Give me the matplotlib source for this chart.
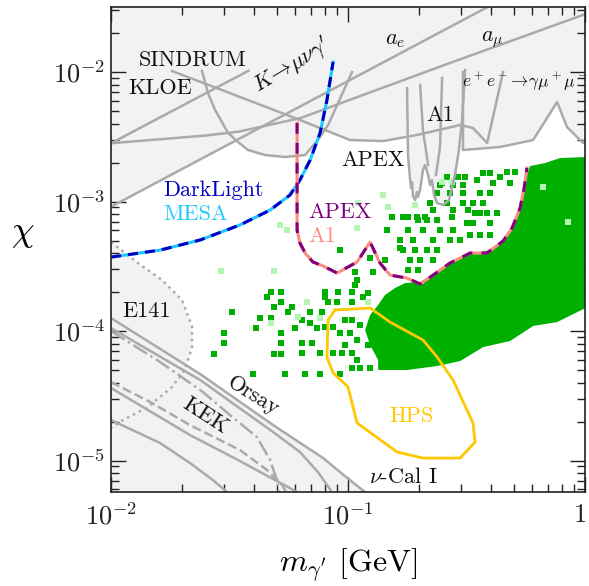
import numpy as np
import matplotlib
matplotlib.use("Agg")
import matplotlib.pyplot as plt
from matplotlib.ticker import LogLocator, NullFormatter
from matplotlib.transforms import ScaledTranslation

plt.rcParams.update({
    "font.family": "serif",
    "font.serif": ["cmr10", "DejaVu Serif"],
    "mathtext.fontset": "cm",
    "axes.unicode_minus": False,
    "axes.formatter.use_mathtext": True,
})

# all curves given as log10(m / GeV), log10(chi)
ae_lm = [-2.0, -0.30]
ae_lc = [-3.04, -1.39]

amu_lm = [-2.0, -1.6, -1.46, -1.2, -1.0, -0.6, 0.02]
amu_lc = [-2.55, -2.49, -2.46, -2.355, -2.22, -1.95, -1.54]

kmu_lm = [-2.0, -1.42]
kmu_lc = [-2.55, -1.99]

sindrum_lm = [-1.743, -1.532, -1.236, -1.118, -0.992, -0.852, -0.709, -0.527, -0.473, -0.413, -0.346]
sindrum_lc = [-1.992, -2.139, -2.347, -2.432, -2.525, -2.533, -2.486, -2.409, -2.432, -2.548, -2.0]

kloe_lm = [-1.616, -1.591, -1.561, -1.506, -1.464, -1.422, -1.350, -1.266, -1.181, -1.131, -1.084, -1.030, -0.983]
kloe_lc = [-1.992, -2.162, -2.293, -2.471, -2.541, -2.602, -2.641, -2.656, -2.641, -2.533, -2.409, -2.19, -2.0]

babar_lm = [-0.515, -0.515, -0.359, -0.219, -0.118, -0.076, -0.008, 0.017]
babar_lc = [-2.0, -2.602, -2.579, -2.525, -2.232, -2.425, -2.548, -2.471]

a1_lm = [-0.751, -0.747, -0.738, -0.734, -0.730, -0.726, -0.717, -0.709, -0.705, -0.696, -0.684, -0.675,
         -0.662, -0.654, -0.646, -0.637, -0.624, -0.599, -0.574, -0.549, -0.532, -0.519, -0.506]
a1_lc = [-2.124, -2.641, -2.834, -2.896, -2.849, -2.958, -2.988, -2.927, -2.965, -2.911, -2.757, -2.718,
         -2.795, -2.873, -2.834, -2.950, -3.012, -3.027, -2.988, -2.795, -2.602, -2.371, -1.985]
a1b_lm = [-0.696, -0.684, -0.662]
a1b_lc = [-2.100, -2.448, -2.718]
a1c_lm = [-0.603, -0.612, -0.629]
a1c_lc = [-2.046, -2.579, -2.795]

# beam dumps
orsay_lm = [-2.0, -1.624, -1.316, -1.105, -1.013, -0.89]
orsay_lc = [-3.900, -4.332, -4.726, -4.981, -5.120, -5.30]
bd2_lm = [-2.0, -1.624, -1.316, -1.203, -1.127, -1.068, -1.055]
bd2_lc = [-3.977, -4.378, -4.780, -4.934, -5.089, -5.243, -5.30]
kek_lm = [-2.0, -1.793, -1.612, -1.498, -1.384, -1.329, -1.300, -1.287]
kek_lc = [-4.000, -4.239, -4.471, -4.649, -4.819, -4.996, -5.151, -5.30]
bd3_lm = [-2.0, -1.835, -1.667, -1.456, -1.342, -1.278, -1.245]
bd3_lc = [-4.394, -4.548, -4.726, -4.919, -5.073, -5.189, -5.30]
bd4_lm = [-2.0, -1.667, -1.464, -1.215, -1.181]
bd4_lc = [-4.440, -4.803, -4.996, -5.243, -5.30]
bd5_lm = [-2.0, -1.793, -1.667, -1.570, -1.511, -1.485]
bd5_lc = [-4.687, -4.865, -5.019, -5.151, -5.243, -5.30]
e141_lm = [-2.0, -1.886, -1.785, -1.700, -1.658, -1.658, -1.688, -1.743, -1.844, -1.949, -2.0]
e141_lc = [-3.313, -3.475, -3.606, -3.761, -3.969, -4.124, -4.301, -4.432, -4.587, -4.687, -4.749]

# future experiments
darklight_lm = [-2.0, -1.793, -1.624, -1.456, -1.329, -1.245, -1.203, -1.160, -1.118, -1.089, -1.063]
darklight_lc = [-3.429, -3.375, -3.297, -3.181, -3.066, -2.950, -2.834, -2.680, -2.471, -2.216, -1.923]

apex_lm = [-1.215, -1.215, -1.203, -1.181, -1.148, -1.105, -1.046, -0.962, -0.907, -0.865, -0.823, -0.751,
           -0.696, -0.641, -0.570, -0.485, -0.414, -0.346, -0.308, -0.274, -0.257, -0.245]
apex_lc = [-2.394, -3.220, -3.320, -3.398, -3.467, -3.498, -3.552, -3.467, -3.313, -3.475, -3.568, -3.591,
           -3.637, -3.568, -3.475, -3.398, -3.398, -3.305, -3.205, -3.050, -2.896, -2.741]

hps_lm = [-1.055, -0.907, -0.823, -0.684, -0.624, -0.557, -0.473, -0.464, -0.527, -0.684, -0.793,
          -0.962, -1.000, -1.063, -1.089, -1.084, -1.055]
hps_lc = [-3.838, -3.822, -3.931, -4.069, -4.201, -4.378, -4.710, -4.857, -4.981, -4.981, -4.934,
          -4.710, -4.432, -4.324, -4.201, -3.915, -3.838]

# model scan: dense core outline
core_lm = [0.01, -0.105, -0.169, -0.232, -0.245, -0.266, -0.295, -0.338, -0.401, -0.485, -0.570, -0.633,
           -0.696, -0.759, -0.802, -0.844, -0.873, -0.907, -0.928, -0.907, -0.873, -0.873, -0.751, -0.624,
           -0.527, -0.430, -0.316, -0.219, -0.118, 0.01]
core_lc = [-2.656, -2.664, -2.703, -2.726, -2.795, -2.988, -3.158, -3.297, -3.375, -3.405, -3.475, -3.552,
           -3.622, -3.629, -3.668, -3.722, -3.799, -3.876, -3.992, -4.108, -4.224, -4.301, -4.301, -4.270,
           -4.232, -4.124, -4.077, -3.961, -3.931, -3.815]

# model scan: isolated points
pt_lm = [-1.489, -1.342, -1.325, -1.283, -1.283, -1.312, -1.236, -1.253, -1.371, -1.325, -1.388, -1.224,
         -1.523, -1.283, -1.523, -1.283, -1.565, -1.312, -1.283, -1.401, -1.266, -1.181, -1.118, -1.034,
         -1.034, -0.970, -0.895, -0.962, -0.970, -1.097, -1.042, -0.983, -0.916, -1.097, -0.937, -1.084,
         -1.046, -0.983, -1.160, -1.110, -1.194, -1.160, -1.131, -1.097, -1.063, -1.194, -1.152, -1.194,
         -1.118, -1.063, -1.025, -0.983, -0.962, -0.983, -0.949, -0.907,
         -1.013, -0.983, -0.949, -1.034, -0.992, -0.962, -1.013, -0.916, -0.886, -0.865,
         -0.329, -0.295, -0.506, -0.359, -0.603, -0.388, -0.316, -0.624, -0.570, -0.515, -0.443, -0.401,
         -0.654, -0.582, -0.515, -0.473, -0.430, -0.641, -0.557, -0.494, -0.464, -0.443, -0.414, -0.371,
         -0.705, -0.667, -0.624, -0.498, -0.473, -0.401, -0.747, -0.684, -0.612, -0.557, -0.485, -0.443,
         -0.401, -0.781, -0.726, -0.641, -0.570, -0.527, -0.768, -0.717, -0.667, -0.624, -0.738, -0.696,
         -0.641, -0.747, -0.705, -0.814, -0.747, -0.835, -0.907, -0.844, -0.781, -0.582, -0.536, -0.430,
         -0.401, -0.612, -0.557, -0.515, -0.456, -0.768, -0.709, -0.675, -0.561]
pt_lc = [-3.853, -3.737, -3.699, -3.699, -3.776, -3.815, -3.815, -3.853, -3.900, -3.900, -3.977, -3.977,
         -4.015, -4.015, -4.093, -4.093, -4.178, -4.178, -4.178, -4.332, -4.332, -4.332, -4.332, -4.332,
         -3.375, -3.544, -3.544, -3.606, -3.645, -3.699, -3.699, -3.699, -3.707, -3.737, -3.737, -3.776,
         -3.776, -3.776, -3.853, -3.853, -3.915, -3.938, -3.977, -3.969, -3.969, -4.093, -4.093, -4.170,
         -4.170, -4.170, -4.170, -4.170, -4.224, -4.286, -4.286, -4.286,
         -3.915, -3.915, -3.954, -4.015, -4.015, -4.069, -4.108, -4.108, -4.054, -3.992,
         -2.772, -2.772, -2.811, -2.811, -2.857, -2.857, -2.857, -2.934, -2.934, -2.934, -2.934, -2.934,
         -3.012, -3.012, -3.012, -3.012, -3.012, -3.066, -3.066, -3.066, -3.089, -3.089, -3.089, -3.089,
         -3.143, -3.143, -3.143, -3.166, -3.166, -3.166, -3.220, -3.220, -3.220, -3.220, -3.259, -3.259,
         -3.259, -3.297, -3.297, -3.297, -3.297, -3.297, -3.375, -3.375, -3.375, -3.375, -3.452, -3.452,
         -3.452, -3.529, -3.529, -3.120, -3.120, -3.220, -3.436, -3.452, -3.359, -2.811, -2.811, -2.780,
         -2.780, -2.873, -2.873, -2.873, -2.834, -3.120, -3.120, -3.120, -3.120]
faint_lm = [-1.536, -1.312, -1.325, -1.211, -1.173, -1.118, -0.916, -0.962, -0.852, -0.831, -0.717,
            -0.603, -0.561, -0.958, -1.287, -1.257, -0.177, -0.072]
faint_lc = [-3.537, -3.537, -3.938, -3.892, -3.776, -3.900, -3.776, -3.205, -2.950, -3.042, -3.027,
            -2.849, -2.849, -3.012, -3.181, -3.220, -2.888, -3.158]

FILL = "#f2f2f2"
GRAY = "#aaaaaa"
GREEN = "#00b000"
FAINT = "#b4f5b4"
CHI_TOP, CHI_BOT = 0.2, 1e-6


def lin(lm, lc):
    return 10.0 ** np.asarray(lm), 10.0 ** np.asarray(lc)


fig = plt.figure(figsize=(5.89, 5.86), dpi=100)
ax = fig.add_axes([0.1885, 0.1604, 0.8048, 0.8276])
ax.set_xscale("log")
ax.set_yscale("log")

# excluded regions
for lm, lc in [(ae_lm, ae_lc), (amu_lm, amu_lc), (kmu_lm, kmu_lc), (sindrum_lm, sindrum_lc),
               (kloe_lm, kloe_lc), (babar_lm, babar_lc), (a1_lm, a1_lc)]:
    m, c = lin(lm, lc)
    ax.fill(np.r_[m, m[-1], m[0]], np.r_[c, CHI_TOP, CHI_TOP], color=FILL, lw=0, zorder=1)

m, c = lin(orsay_lm, orsay_lc)
ax.fill(np.r_[m, m[-1], m[0]], np.r_[c, CHI_BOT, CHI_BOT], color=FILL, lw=0, zorder=1)
m, c = lin(e141_lm, e141_lc)
ax.fill(m, c, color=FILL, lw=0, zorder=1)

# scan points
m, c = lin(core_lm, core_lc)
ax.fill(m, c, color=GREEN, lw=0, zorder=2)
m, c = lin(pt_lm, pt_lc)
ax.scatter(m, c, marker="s", s=17, color=GREEN, lw=0, zorder=2)
m, c = lin(faint_lm, faint_lc)
ax.scatter(m, c, marker="s", s=17, color=FAINT, lw=0, zorder=2)

# constraint boundaries
for lm, lc in [(ae_lm, ae_lc), (amu_lm, amu_lc), (kmu_lm, kmu_lc), (sindrum_lm, sindrum_lc),
               (kloe_lm, kloe_lc), (babar_lm, babar_lc), (a1_lm, a1_lc), (a1b_lm, a1b_lc),
               (a1c_lm, a1c_lc), (orsay_lm, orsay_lc), (bd2_lm, bd2_lc), (bd4_lm, bd4_lc),
               (bd5_lm, bd5_lc)]:
    ax.plot(*lin(lm, lc), color=GRAY, lw=1.8, zorder=3, solid_joinstyle="round")
ax.plot(*lin(kek_lm, kek_lc), color=GRAY, lw=1.8, ls="-.", zorder=3)
ax.plot(*lin(bd3_lm, bd3_lc), color=GRAY, lw=1.8, ls="--", zorder=3)
ax.plot(*lin(e141_lm, e141_lc), color=GRAY, lw=1.8, ls=":", zorder=3)

# projected reaches
ax.plot(*lin(darklight_lm, darklight_lc), color="#1ec8ff", lw=2.2, zorder=4)
ax.plot(*lin(darklight_lm, darklight_lc), color="#0000c0", lw=2.2, ls=(0, (3.3, 2.3)), zorder=4)
ax.plot(*lin(apex_lm, apex_lc), color="#fa8c80", lw=2.2, zorder=4)
ax.plot(*lin(apex_lm, apex_lc), color="#800080", lw=2.2, ls=(0, (3.5, 3.0)), zorder=4)
ax.plot(*lin(hps_lm, hps_lc), color="#ffc800", lw=2.0, zorder=4)

fs = 16
kw = dict(fontsize=fs, zorder=5)
ax.text(0.0220, 0.01238, "SINDRUM", ha="center", va="center", color="#111111", **kw)
ax.text(0.0161, 7.52e-3, "KLOE", ha="center", va="center", color="#111111", **kw)
ax.text(0.0581, 0.0113, r"$K\!\to\!\mu\nu\gamma^\prime$", ha="center", va="center",
        rotation=31, color="#111111", **kw)
ax.text(0.1577, 0.01766, r"$a_e$", ha="center", va="center", color="#111111", **kw)
ax.text(0.4055, 0.01766, r"$a_\mu$", ha="center", va="center", color="#111111", **kw)
ax.text(0.303, 8.37e-3, r"$e^+e^-\!\to\!\gamma\mu^+\mu^-$", ha="left", va="center",
        color="#111111", fontsize=12.5, zorder=5)
ax.text(0.2444, 4.66e-3, "A1", ha="center", va="center", color="#111111", **kw)
ax.text(0.1273, 2.09e-3, "APEX", ha="center", va="center", color="#111111", **kw)
ax.text(0.01655, 1.227e-3, "DarkLight", ha="left", va="center", color="#0000c0", **kw)
ax.text(0.01655, 8.0e-4, "MESA", ha="left", va="center", color="#1ec8ff", **kw)
ax.text(0.0678, 8.3e-4, "APEX", ha="left", va="center", color="#800080", **kw)
ax.text(0.0678, 5.42e-4, "A1", ha="left", va="center", color="#fa8c80", **kw)
ax.text(0.01112, 1.425e-4, "E141", ha="left", va="center", color="#111111", **kw)
ax.text(0.0397, 3.15e-5, "Orsay", ha="center", va="center", rotation=-32, color="#111111", **kw)
ax.text(0.02494, 2.21e-5, "KEK", ha="center", va="center", rotation=-33, color="#111111", **kw)
ax.text(0.1845, 2.21e-5, "HPS", ha="center", va="center", color="#ffc800", **kw)
ax.text(0.1706, 7.46e-6, r"$\nu$-Cal I", ha="center", va="center", color="#111111", **kw)

ax.set_xlim(0.01, 1.0)
ax.set_ylim(10 ** -5.243, 10 ** -1.498)
ax.set_xticks([0.01, 0.1, 1.0])
ax.set_xticklabels([r"$10^{-2}$", r"$10^{-1}$", r"$1$"])
ax.set_yticks([1e-5, 1e-4, 1e-3, 1e-2])
ax.set_yticklabels([r"$10^{-5}$", r"$10^{-4}$", r"$10^{-3}$", r"$10^{-2}$"])
ax.xaxis.set_minor_locator(LogLocator(base=10, subs=np.arange(2, 10)))
ax.yaxis.set_minor_locator(LogLocator(base=10, subs=np.arange(2, 10)))
ax.xaxis.set_minor_formatter(NullFormatter())
ax.yaxis.set_minor_formatter(NullFormatter())
ax.tick_params(which="both", direction="in", top=True, right=True, width=1.0, colors="#222222",
               labelsize=19)
ax.tick_params(which="major", length=10.5)
ax.tick_params(which="minor", length=5.5)
ax.tick_params(axis="x", pad=8)
ax.tick_params(axis="y", pad=4)
for s in ax.spines.values():
    s.set_linewidth(1.2)
    s.set_color("#222222")
    s.set_zorder(6)

# keep the last mass label inside the canvas
last = ax.get_xticklabels()[-1]
last.set_transform(last.get_transform() + ScaledTranslation(-4 / 72, 0, fig.dpi_scale_trans))

ax.set_xlabel(r"$m_{\gamma^\prime}$ [GeV]", fontsize=23, labelpad=12)
ax.set_ylabel(r"$\chi$", fontsize=26, rotation=0, labelpad=22)

fig.savefig("out.png", dpi=100)
